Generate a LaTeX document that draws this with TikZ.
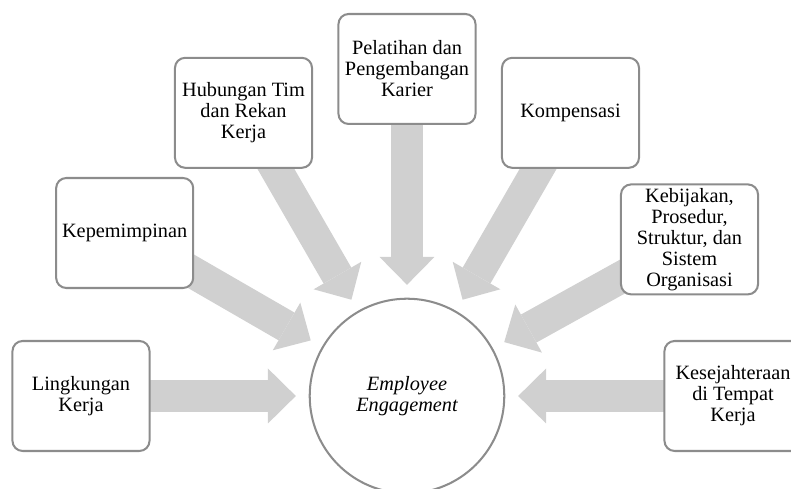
\documentclass[tikz,border=0pt]{standalone}
\usepackage{fontspec}
\setmainfont{Liberation Serif}
\usetikzlibrary{arrows.meta,backgrounds}
\definecolor{edgegray}{HTML}{8C8C8C}
\definecolor{flowgray}{HTML}{D0D0D0}
\tikzset{
  factor/.style={draw=edgegray, line width=1.2pt, fill=white, rounded corners=6pt,
    minimum width=81pt, minimum height=65pt, inner sep=1pt, align=center,
    font=\fontsize{12}{12.4}\selectfont},
  core/.style={circle, draw=edgegray, line width=1.2pt, fill=white,
    minimum size=115pt, align=center, font=\fontsize{12}{12.6}\selectfont\itshape},
  flow/.style={draw=flowgray, line width=18.9pt, shorten >=7.6pt,
    -{Triangle[width=32.5pt,length=16.5pt,line width=0pt]}}
}
\begin{document}
\begin{tikzpicture}[x=0.591pt, y=0.591pt]
\useasboundingbox (0,0) rectangle (791,489);
\node[core] (ee) at (407,93) {Employee\\Engagement};
\foreach \ang/\rad/\nm/\txt in {180/326/lk/{Lingkungan\\Kerja},
    150/326/kp/{Kepemimpinan},
    120/327/ht/{Hubungan Tim\\dan Rekan\\Kerja},
    90/327/pp/{Pelatihan dan\\Pengembangan\\Karier},
    60/327/km/{Kompensasi},
    29/323/kb/{Kebijakan,\\Prosedur,\\Struktur, dan\\Sistem\\Organisasi},
    0/326/ks/{Kesejahteraan\\di Tempat\\Kerja}}
  \node[factor] (\nm) at ([shift={(\ang:\rad)}]ee.center) {\txt};
\begin{pgfonlayer}{background}
\foreach \nm in {lk,kp,ht,pp,km,kb,ks}
  \draw[flow] (\nm.center) -- (ee);
\end{pgfonlayer}
\end{tikzpicture}
\end{document}
